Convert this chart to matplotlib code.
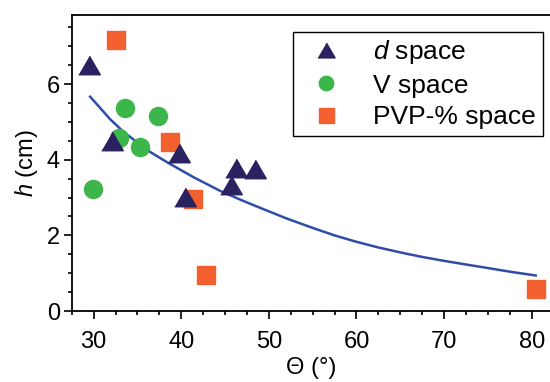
import matplotlib

matplotlib.use("Agg")
import matplotlib.pyplot as plt
from matplotlib.ticker import MultipleLocator

# d space (triangles)
D_THETA = [29.5, 32.1, 39.7, 40.4, 45.7, 46.2, 48.4]
D_H = [6.50, 4.49, 4.17, 3.01, 3.34, 3.79, 3.75]

# V space (circles)
V_THETA = [29.9, 32.9, 33.6, 35.3, 37.3]
V_H = [3.24, 4.57, 5.36, 4.34, 5.17]

# PVP-% space (squares)
P_THETA = [32.6, 38.7, 41.4, 42.8, 80.5]
P_H = [7.18, 4.46, 2.95, 0.95, 0.57]

# fitted trend
FIT_THETA = [29.6, 31.9, 33.5, 36.5, 38.5, 41.4, 44.5, 47.0, 49.0, 52.0, 55.1,
             57.5, 60.0, 62.5, 65.4, 67.5, 69.9, 72.5, 74.9, 77.5, 80.45]
FIT_H = [5.67, 5.07, 4.72, 4.20, 3.92, 3.54, 3.17, 2.92, 2.73, 2.45, 2.19,
         2.00, 1.83, 1.68, 1.53, 1.43, 1.33, 1.23, 1.14, 1.04, 0.94]

NAVY = "#2A2160"
GREEN = "#3CB64A"
ORANGE = "#F26030"
BLUE = "#2E4DA7"

plt.rcParams.update({
    "font.family": ["Liberation Sans", "DejaVu Sans"],
    "font.size": 17,
    "mathtext.fontset": "custom",
    "mathtext.rm": "Liberation Sans",
    "mathtext.it": "Liberation Sans:italic",
})

W, H = 550, 382
fig = plt.figure(figsize=(W / 100, H / 100), dpi=100)
ax = fig.add_axes([71.7 / W, 1 - 311 / H, (551 - 71.7) / W, (311 - 15) / H])

tri = [(-1, -0.86), (1, -0.86), (0, 0.86)]
ax.plot(FIT_THETA, FIT_H, color=BLUE, lw=1.8, zorder=2, solid_joinstyle="round")
ax.plot(V_THETA, V_H, ls="none", marker="o", ms=13, color=GREEN, mec=GREEN,
        label="V space", zorder=3)
ax.plot(P_THETA, P_H, ls="none", marker="s", ms=13.5, color=ORANGE, mec=ORANGE,
        label="PVP-% space", zorder=3)
ax.plot(D_THETA, D_H, ls="none", marker=tri, ms=15.5, color=NAVY, mec=NAVY,
        label="$d$ space", zorder=4)

ax.set_xlim(27.5, 82.2)
ax.set_ylim(0, 7.83)
ax.xaxis.set_major_locator(MultipleLocator(10))
ax.xaxis.set_minor_locator(MultipleLocator(2.5))
ax.yaxis.set_major_locator(MultipleLocator(2))
ax.yaxis.set_minor_locator(MultipleLocator(0.5))
ax.tick_params(which="both", direction="out", width=1.2, top=False, right=False)
ax.tick_params(which="major", length=5.5)
ax.tick_params(which="minor", length=3)
ax.tick_params(axis="x", which="major", pad=9)
ax.tick_params(axis="y", which="major", pad=3)
for s in ("left", "bottom", "top"):
    ax.spines[s].set_linewidth(1.3)
ax.spines["right"].set_visible(False)

ax.set_xlabel("Θ (°)", labelpad=3)
ax.set_ylabel("$h$ (cm)", labelpad=5)

handles, labels = ax.get_legend_handles_labels()
order = [2, 0, 1]
leg = ax.legend([handles[i] for i in order], [labels[i] for i in order],
                loc="upper left", bbox_to_anchor=(292.7 / W, 1 - 31.7 / H),
                bbox_transform=fig.transFigure, borderaxespad=0,
                fancybox=False, edgecolor="black", framealpha=1,
                markerscale=0.8, handlelength=2.0, handletextpad=0.8,
                labelspacing=0.28, borderpad=0.25, fontsize=19)
leg.get_frame().set_linewidth(1.0)

fig.savefig("out.png", dpi=100)
